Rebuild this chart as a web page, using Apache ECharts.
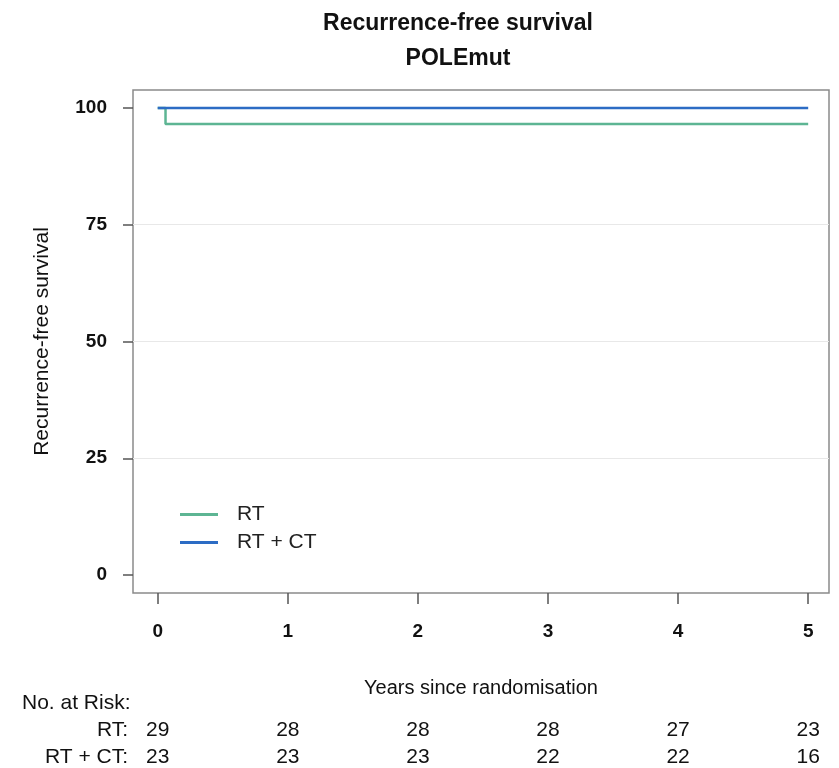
<!DOCTYPE html>
<html>
<head>
<meta charset="utf-8">
<script src="https://cdn.jsdelivr.net/npm/echarts@6/dist/echarts.min.js"></script>
<style>
html, body { margin: 0; padding: 0; background: #fff; }
#chart { width: 839px; height: 768px; }
</style>
</head>
<body>
<div id="chart"></div>
<script>
// data
const yearTicks = [0, 1, 2, 3, 4, 5]
const survTicks = [0, 25, 50, 75, 100]
const gridLines = [25, 50, 75]
const rtTimes = [0, 0.06, 5]
const rtSurv = [100, 96.55, 96.55]
const rtctTimes = [0, 5]
const rtctSurv = [100, 100]
const riskRT = [29, 28, 28, 28, 27, 23]
const riskRTCT = [23, 23, 23, 22, 22, 16]

const green = '#5db593'
const blue = '#2c6cc4'
const sans = '"Liberation Sans", Arial, sans-serif'

const chart = echarts.init(document.getElementById('chart'))

// extra x axes hold the numbers-at-risk rows
function riskAxis(values, offset) {
    return {
        type: 'value', position: 'bottom', offset: offset,
        min: -0.19, max: 5.16,
        axisLine: { show: false, onZero: false }, axisTick: { show: false }, splitLine: { show: false },
        axisLabel: {
            customValues: yearTicks, margin: 0,
            fontFamily: sans, fontSize: 21, color: '#111',
            formatter: v => values[yearTicks.indexOf(Math.round(v))]
        }
    }
}

chart.setOption({
    animation: false,
    title: {
        text: 'Recurrence-free survival\nPOLEmut',
        left: 453, top: 1, textAlign: 'center',
        textStyle: { fontFamily: sans, fontSize: 23, fontWeight: 'bold', color: '#111', lineHeight: 35 }
    },
    grid: {
        left: 133, right: 10, top: 90, bottom: 175,
        show: true, borderColor: '#8a8a8a', borderWidth: 1.5, backgroundColor: '#fff'
    },
    legend: {
        orient: 'vertical', left: 175, top: 499,
        icon: 'rect', itemWidth: 38, itemHeight: 3, itemGap: 7,
        textStyle: { fontFamily: sans, fontSize: 21, color: '#222', padding: [0, 0, 0, 14] },
        data: ['RT', 'RT + CT']
    },
    xAxis: [
        {
            type: 'value', min: -0.19, max: 5.16,
            name: 'Years since randomisation', nameLocation: 'middle', nameGap: 85,
            nameTextStyle: { fontFamily: sans, fontSize: 20, color: '#111' },
            axisLine: { show: false, onZero: false },
            axisTick: { show: true, customValues: yearTicks, length: 11, lineStyle: { color: '#555', width: 1.5 } },
            axisLabel: { customValues: yearTicks, margin: 29, fontFamily: sans, fontSize: 19, fontWeight: 'bold', color: '#111' },
            splitLine: { show: false }
        },
        riskAxis(riskRT, 127),
        riskAxis(riskRTCT, 154)
    ],
    yAxis: {
        type: 'value', min: -3.85, max: 103.85,
        name: 'Recurrence-free survival', nameLocation: 'middle', nameGap: 80,
        nameTextStyle: { fontFamily: sans, fontSize: 21, color: '#111' },
        axisLine: { show: false, onZero: false },
        axisTick: { show: true, customValues: survTicks, length: 10, lineStyle: { color: '#555', width: 1.5 } },
        axisLabel: { customValues: survTicks, margin: 26, fontFamily: sans, fontSize: 19, fontWeight: 'bold', color: '#111' },
        splitLine: { show: false }
    },
    graphic: [
        { type: 'text', left: 22, top: 693, style: { text: 'No. at Risk:', fontFamily: sans, fontSize: 21, fill: '#111' } },
        { type: 'text', right: 711, top: 720, style: { text: 'RT:', fontFamily: sans, fontSize: 21, fill: '#111', textAlign: 'right' } },
        { type: 'text', right: 711, top: 747, style: { text: 'RT + CT:', fontFamily: sans, fontSize: 21, fill: '#111', textAlign: 'right' } }
    ],
    series: [
        {
            // faint horizontal guide lines
            name: 'grid', type: 'line', data: [], z: 1,
            markLine: {
                silent: true, symbol: 'none', label: { show: false },
                lineStyle: { color: '#e8e8e8', width: 1, type: 'solid' },
                data: gridLines.map(v => ({ yAxis: v }))
            }
        },
        {
            name: 'RT', type: 'line', step: 'end', symbol: 'none',
            lineStyle: { color: green, width: 2.5 }, itemStyle: { color: green },
            data: rtTimes.map((t, i) => [t, rtSurv[i]]),
            z: 3
        },
        {
            name: 'RT + CT', type: 'line', step: 'end', symbol: 'none',
            lineStyle: { color: blue, width: 2.5 }, itemStyle: { color: blue },
            data: rtctTimes.map((t, i) => [t, rtctSurv[i]]),
            z: 4
        }
    ]
})
</script>
</body>
</html>
